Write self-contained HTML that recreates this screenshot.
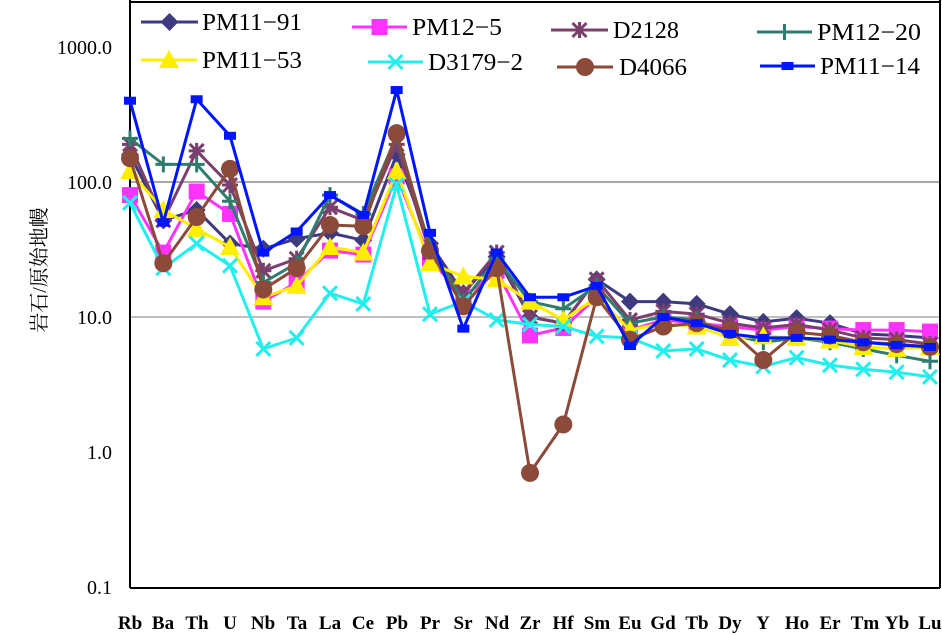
<!DOCTYPE html>
<html><head><meta charset="utf-8"><style>
body{margin:0;background:#fff;}
svg{display:block;font-family:"Liberation Serif","Noto Serif CJK SC",serif;}
</style></head><body>
<svg id="s" width="942" height="635" viewBox="0 0 942 635" xmlns="http://www.w3.org/2000/svg">
<line x1="130" y1="182" x2="940" y2="182" stroke="#888" stroke-width="1.5"/>
<line x1="130" y1="317" x2="940" y2="317" stroke="#aaa" stroke-width="1.5"/>
<line x1="130" y1="0" x2="130" y2="588" stroke="#000" stroke-width="2"/>
<line x1="940" y1="0" x2="940" y2="588" stroke="#000" stroke-width="2"/>
<line x1="130" y1="588" x2="940" y2="588" stroke="#000" stroke-width="2"/>
<line x1="130" y1="2" x2="940" y2="2" stroke="#000" stroke-width="2"/>
<g font-size="20" text-anchor="end">
<text x="112" y="54">1000.0</text>
<text x="112" y="189">100.0</text>
<text x="112" y="324">10.0</text>
<text x="112" y="459">1.0</text>
<text x="112" y="594">0.1</text>
</g>
<text transform="translate(46,270) rotate(-90)" font-size="20" text-anchor="middle">岩石/原始地幔</text>
<g font-size="19" font-weight="bold" text-anchor="middle">
<text x="130" y="629">Rb</text><text x="163" y="629">Ba</text><text x="197" y="629">Th</text><text x="230" y="629">U</text><text x="263" y="629">Nb</text><text x="297" y="629">Ta</text><text x="330" y="629">La</text><text x="363" y="629">Ce</text><text x="397" y="629">Pb</text><text x="430" y="629">Pr</text><text x="463" y="629">Sr</text><text x="497" y="629">Nd</text><text x="530" y="629">Zr</text><text x="563" y="629">Hf</text><text x="597" y="629">Sm</text><text x="630" y="629">Eu</text><text x="663" y="629">Gd</text><text x="697" y="629">Tb</text><text x="730" y="629">Dy</text><text x="763" y="629">Y</text><text x="797" y="629">Ho</text><text x="830" y="629">Er</text><text x="865" y="629">Tm</text><text x="897" y="629">Yb</text><text x="930" y="629">Lu</text>
</g>
<g font-size="24">
<text x="202" y="30" textLength="100" lengthAdjust="spacingAndGlyphs">PM11−91</text>
<text x="412" y="35" textLength="90" lengthAdjust="spacingAndGlyphs">PM12−5</text>
<text x="613" y="38" textLength="66" lengthAdjust="spacingAndGlyphs">D2128</text>
<text x="817" y="40" textLength="104" lengthAdjust="spacingAndGlyphs">PM12−20</text>
<text x="202" y="68" textLength="100" lengthAdjust="spacingAndGlyphs">PM11−53</text>
<text x="428" y="70" textLength="95" lengthAdjust="spacingAndGlyphs">D3179−2</text>
<text x="619" y="75" textLength="68" lengthAdjust="spacingAndGlyphs">D4066</text>
<text x="820" y="74" textLength="100" lengthAdjust="spacingAndGlyphs">PM11−14</text>
</g>
<g id="data"></g>
</svg>
<script>
var S=[
["#3d3a80","dia",[160,52,62,35,32,38,42,37,160,35,15,28,10,9,19,13,13,12.5,10.5,9.2,9.8,9,7.5,7.3,7],[141,198,22]],
["#ff33ff","sq",[80,30,85,58,13,18,31,29,110,27,14,22,7.3,8.3,14,8,9.5,9,8.5,8,8.5,8.2,8,8,7.8],[352,407,27]],
["#7b3f6e","ast",[190,52,170,95,22,27,65,52,190,30,15,30,10,9,19,9.5,11,10.5,9,8.3,8.8,8,7,6.8,6.3],[551,608,30]],
["#2e7d6e","plus",[210,135,135,72,18,25,80,58,220,33,13,27,13,11.5,17,9,10,9.5,7.5,6.5,7,6.5,5.8,5.2,4.7],[757,812,32]],
["#ffee00","tri",[120,62,45,33,14,17,33,30,120,25,20,19,13,9.5,14,8,9,8.5,7,7.2,7,6.7,6,5.8,6],[141,197,60]],
["#22eeee","x",[70,23,35,24,5.8,7,15,12.5,95,10.5,13,9.5,8.8,8.5,7.2,7,5.6,5.8,4.8,4.3,5,4.4,4.1,3.9,3.6],[368,423,62]],
["#8b4a3a","cir",[150,25,55,125,16,23,48,47,230,31,12,23,0.7,1.6,14,6.8,8.5,9,8,4.8,7.7,7.3,6.5,6.3,6],[557,613,67]],
["#0015ff","dash",[400,50,410,220,30,43,80,57,480,42,8.2,30,14,14,17,6.1,10,9,7.5,7,7,6.8,6.5,6.2,6],[760,815,66]]
];
var g=document.getElementById("data"),ns="http://www.w3.org/2000/svg";
function el(t,a){var e=document.createElementNS(ns,t);for(var k in a)e.setAttribute(k,a[k]);g.appendChild(e);return e;}
function mk(c,t,x,y){
 if(t=="dia")el("polygon",{points:(x)+","+(y-9)+" "+(x+9)+","+y+" "+x+","+(y+9)+" "+(x-9)+","+y,fill:c});
 else if(t=="sq")el("rect",{x:x-8,y:y-8,width:16,height:16,fill:c});
 else if(t=="tri")el("polygon",{points:x+","+(y-10)+" "+(x+10)+","+(y+8)+" "+(x-10)+","+(y+8),fill:c});
 else if(t=="cir")el("circle",{cx:x,cy:y,r:9,fill:c});
 else if(t=="dash")el("rect",{x:x-6,y:y-4,width:12,height:8,fill:c});
 else if(t=="plus"){el("line",{x1:x-8,y1:y,x2:x+8,y2:y,stroke:c,"stroke-width":3});el("line",{x1:x,y1:y-8,x2:x,y2:y+8,stroke:c,"stroke-width":3});}
 else if(t=="x"){el("line",{x1:x-7,y1:y-7,x2:x+7,y2:y+7,stroke:c,"stroke-width":3});el("line",{x1:x-7,y1:y+7,x2:x+7,y2:y-7,stroke:c,"stroke-width":3});}
 else if(t=="ast"){mk(c,"x",x,y);mk(c,"plus",x,y);}
}
S.forEach(function(s){
 var pts=s[2].map(function(v,i){return [130+i*33.333,47+135*(3-Math.log10(v))];});
 el("polyline",{points:pts.map(function(p){return p[0].toFixed(1)+","+p[1].toFixed(1);}).join(" "),fill:"none",stroke:s[0],"stroke-width":3});
 pts.forEach(function(p){mk(s[0],s[1],p[0],p[1]);});
 var L=s[3];el("line",{x1:L[0],y1:L[2],x2:L[1],y2:L[2],stroke:s[0],"stroke-width":3});mk(s[0],s[1],(L[0]+L[1])/2,L[2]);
});
</script>
</body></html>
